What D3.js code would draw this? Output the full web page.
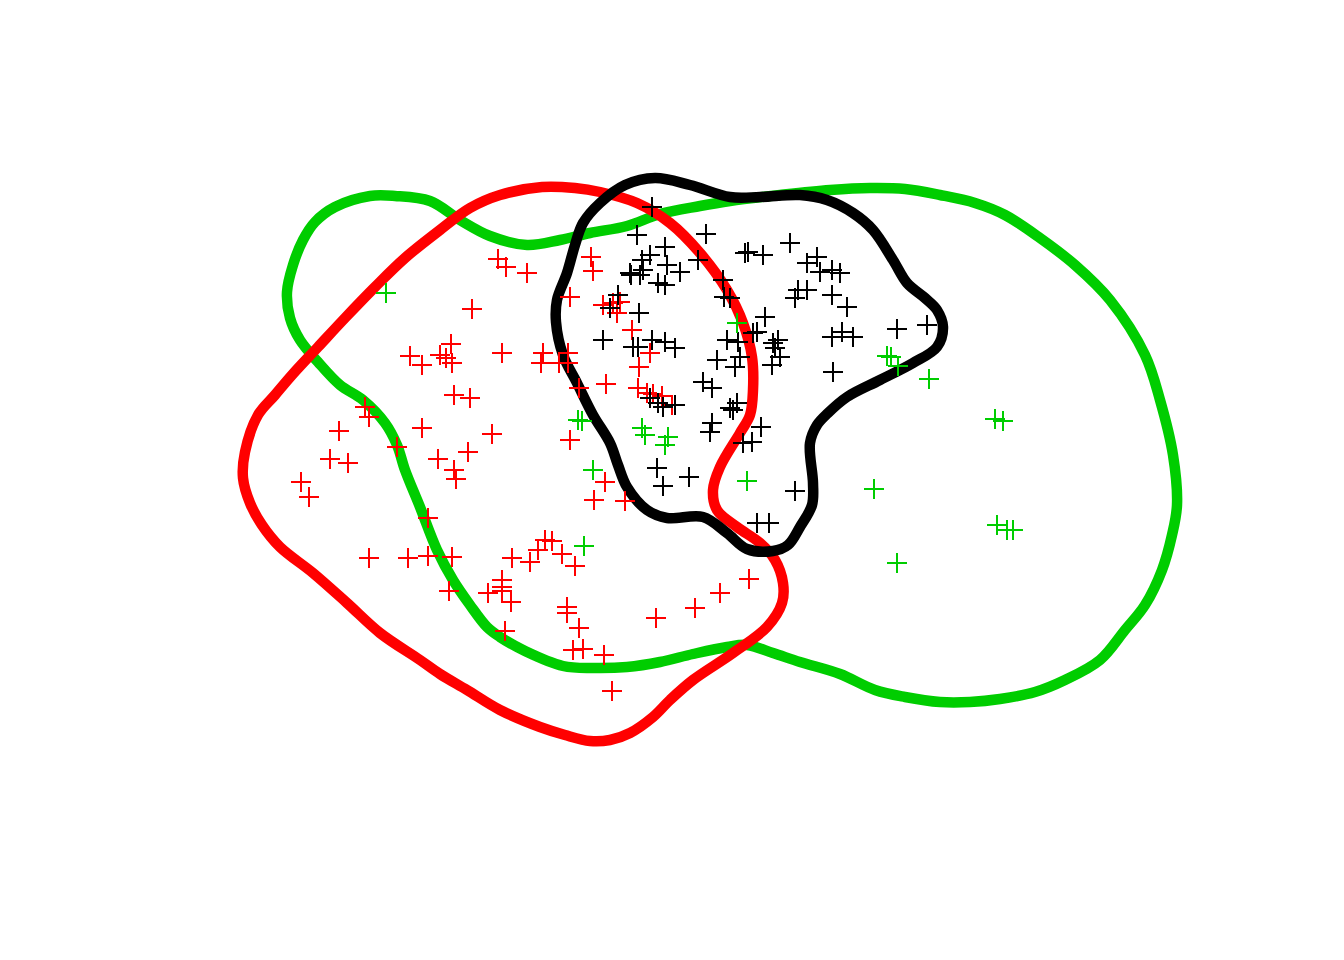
<!DOCTYPE html>
<html>
<head>
<meta charset="utf-8">
<script src="https://cdn.jsdelivr.net/npm/d3@7"></script>
<style>
  html, body { margin: 0; padding: 0; background: #fff; }
  svg { display: block; }
</style>
</head>
<body>
<svg id="chart" width="1344" height="960"></svg>
<script>
// ---- data (arbitrary plot units) ----
const redPoints = [[318,541],[326,533],[347,527],[411,543],[413,529],[292,491],[390,503],
[230,444],[242,435],[271,456],[260,445],[266,442],[272,437],[322,447],[363,447],[361,437],[379,437],[388,447],[388,437],
[423,495],[433,497],[440,498],[437,487],[452,470],[470,447],[459,433],[426,416],[399,412],[458,412],[467,407],[473,406],[482,404],[492,395],
[274,405],[290,402],[185,393],[189,383],[159,369],[242,372],[312,366],[390,360],[217,353],[150,341],[168,337],[258,341],[288,348],[274,330],[276,321],[121,318],[129,303],[425,318],[414,300],[445,299],
[248,282],[189,242],[228,242],[248,244],[272,243],[332,242],[350,238],[358,250],[365,260],[372,259],[382,246],[395,234],
[308,207],[322,220],[322,213],[322,209],[331,198],[325,169],[269,209],[387,193],[387,187],[399,172],[393,150],[403,151],[424,145],[432,109],
[476,182],[515,192],[540,207],[569,221]];

const greenPoints = [[206,507],[398,380],[402,379],[462,372],[465,365],[485,355],[488,363],[413,330],[567,319],[404,254],[557,477],
[707,444],[711,443],[718,434],[749,421],[815,381],[823,379],[694,311],[817,275],[827,270],[833,270],[717,237]];

const blackPoints = [[472,593],[457,565],[526,566],[485,553],[470,545],[462,540],[450,527],[463,530],[487,535],[500,528],[478,517],[485,515],
[518,540],[543,520],[544,503],[550,502],[565,547],[568,548],[583,545],[610,557],[627,537],[637,543],[640,528],[652,530],[660,527],
[615,502],[618,510],[627,510],[652,505],[667,493],[585,483],[451,525],[460,525],[438,505],[430,492],[459,487],[423,460],[453,453],[458,453],
[472,460],[485,458],[495,452],[547,460],[558,458],[573,467],[577,468],[593,457],[598,460],[595,452],[600,443],[592,435],[560,443],[537,440],
[555,433],[523,418],[532,412],[470,402],[478,397],[483,393],[495,395],[550,392],[557,397],[553,390],[652,463],[662,468],[673,463],[653,428],
[717,471],[747,475],[532,377],[530,368],[581,373],[563,357],[572,358],[477,332],[509,323],[483,314],[615,309],[577,277],[589,277]];

const greenContour = [[190,604],[215,604],[250,599],[280,580],[310,564],[347,555],[380,560],[410,567],[447,574],[480,586],[520,594],[550,599],
[600,605],[650,610],[690,612],[725,611],[760,605],[795,597],[825,585],[860,562],[895,535],[930,500],[965,445],[980,400],[993,345],[997,295],
[992,265],[982,230],[965,195],[945,170],[920,140],[885,120],[855,108],[820,101],[790,98],[760,98],[725,103],[695,110],[660,126],[620,138],
[593,147],[567,155],[547,153],[513,146],[480,138],[447,133],[413,132],[383,134],[345,149],[320,163],[307,173],[290,195],[273,220],[257,250],
[240,293],[225,330],[217,355],[205,377],[183,400],[160,415],[138,438],[120,460],[110,482],[107,508],[113,535],[123,560],[135,578],[155,593]];

const redContour = [[362,613],[395,612],[420,608],[457,597],[490,577],[520,547],[547,510],[563,477],[572,443],[573,410],[570,385],[560,367],
[540,333],[533,310],[537,290],[557,273],[580,257],[595,240],[603,217],[602,197],[587,173],[553,147],[513,120],[490,100],[473,83],[450,67],
[430,60],[410,59],[385,65],[360,73],[320,90],[287,110],[260,126],[240,140],[200,167],[167,197],[133,227],[100,253],[82,275],[70,297],
[63,322],[65,348],[78,385],[95,405],[112,425],[138,453],[165,482],[195,513],[225,542],[260,570],[290,592],[320,605]];

const blackContour = [[445,615],[475,622],[510,615],[550,603],[580,603],[620,605],[647,600],[673,587],[693,570],[713,540],[727,517],[745,502],
[757,490],[763,473],[757,453],[733,437],[700,420],[667,403],[648,387],[637,375],[630,357],[633,317],[632,295],[620,273],[608,255],[593,249],
[567,251],[547,267],[523,283],[487,282],[467,290],[447,313],[438,335],[430,357],[413,385],[397,417],[383,445],[376,478],[377,500],[387,527],
[395,555],[403,577],[420,597]];

// ---- drawing ----
const svg = d3.select("#chart");
const x = d3.scaleLinear().domain([0, 1000]).range([180, 1180]);
const y = d3.scaleLinear().domain([0, 700]).range([800, 100]);

const line = d3.line()
  .x(d => x(d[0])).y(d => y(d[1]))
  .curve(d3.curveCatmullRomClosed.alpha(0.5));

const contours = [
  {data: greenContour, color: "#00CD00"},
  {data: redContour, color: "#FF0000"},
  {data: blackContour, color: "#000000"}
];
svg.selectAll("path.contour").data(contours).enter().append("path")
  .attr("class", "contour")
  .attr("d", d => line(d.data))
  .attr("fill", "none")
  .attr("stroke", d => d.color)
  .attr("stroke-width", 10.5)
  .attr("stroke-linejoin", "round");

const crossPath = "M-10,0H10M0,-10V10";
const groups = [
  {data: redPoints, color: "#FF0000"},
  {data: blackPoints, color: "#000000"},
  {data: greenPoints, color: "#00CD00"}
];
groups.forEach(g => {
  svg.append("g").selectAll("path").data(g.data).enter().append("path")
    .attr("d", crossPath)
    .attr("transform", d => `translate(${x(d[0])},${y(d[1])})`)
    .attr("fill", "none")
    .attr("stroke", g.color)
    .attr("stroke-width", 2);
});
</script>
</body>
</html>
